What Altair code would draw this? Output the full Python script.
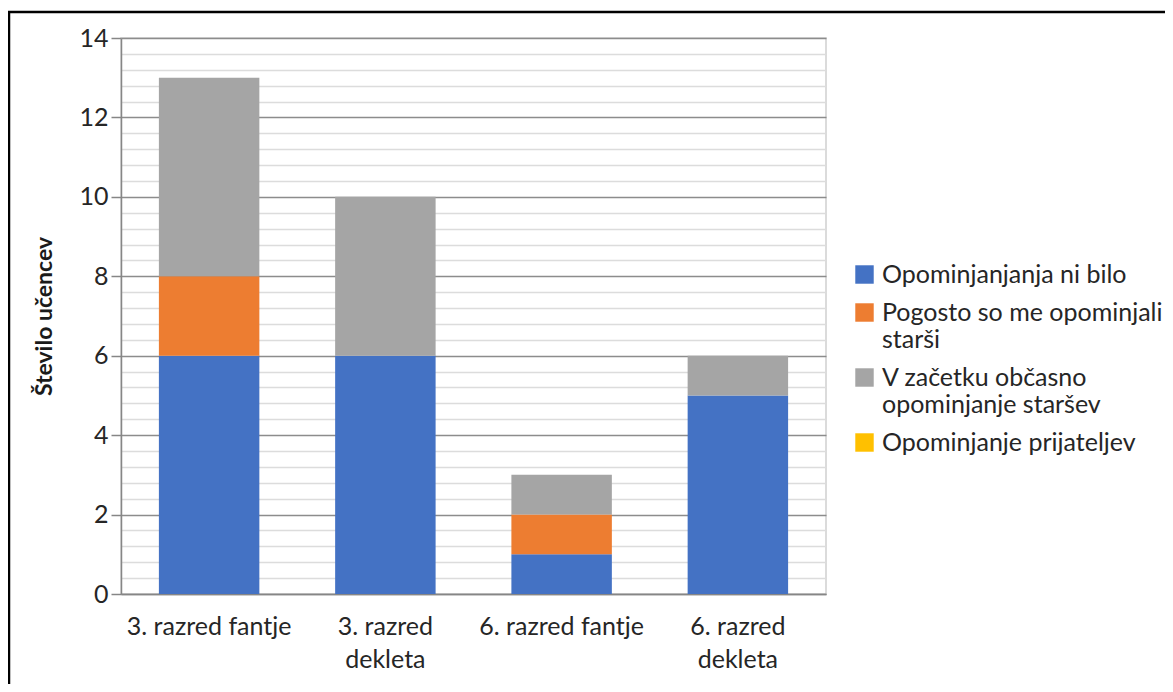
import altair as alt
import pandas as pd

categories = ["3. razred fantje", "3. razred dekleta", "6. razred fantje", "6. razred dekleta"]
series = [
    "Opominjanjanja ni bilo",
    "Pogosto so me opominjali starši",
    "V začetku občasno opominjanje staršev",
    "Opominjanje prijateljev",
]
colors = ["#4472C4", "#ED7D31", "#A5A5A5", "#FFC000"]

ni_bilo = [6, 6, 1, 5]
pogosto = [2, 0, 1, 0]
v_zacetku = [5, 4, 1, 1]
prijatelji = [0, 0, 0, 0]

major_ticks = [0, 2, 4, 6, 8, 10, 12, 14]
minor_ticks = [0.4, 0.8, 1.2, 1.6, 2.4, 2.8, 3.2, 3.6, 4.4, 4.8, 5.2, 5.6,
               6.4, 6.8, 7.2, 7.6, 8.4, 8.8, 9.2, 9.6, 10.4, 10.8, 11.2, 11.6,
               12.4, 12.8, 13.2, 13.6]

rows = []
for si, (name, vals) in enumerate(zip(series, [ni_bilo, pogosto, v_zacetku, prijatelji])):
    for c, v in zip(categories, vals):
        rows.append({"razred": c, "serija": name, "vrednost": v, "red": si})
df = pd.DataFrame(rows)

FONT = "Lato"
FS = 25
W, H = 705, 556

x_axis = alt.Axis(
    labelAngle=0, labelAlign="center", labelBaseline="top",
    labelFontSize=FS, labelFont=FONT, labelColor="#262626",
    labelPadding=20, labelLineHeight=33, ticks=False,
    domainColor="#868686", domainWidth=1.5, grid=False, labelLimit=300,
    labelExpr="indexof(datum.value, 'dekleta') > 0 ? [replace(datum.value, ' dekleta', ''), 'dekleta'] : datum.value",
)
x_scale = alt.Scale(paddingInner=0.43, paddingOuter=0.215)

legend_expr = (
    "datum.label == 'Pogosto so me opominjali starši' ? ['Pogosto so me opominjali', 'starši'] : "
    "datum.label == 'V začetku občasno opominjanje staršev' ? ['V začetku občasno', 'opominjanje staršev'] : datum.label"
)

bars = alt.Chart(df).mark_bar().encode(
    x=alt.X("razred:N", sort=categories, title=None, scale=x_scale, axis=x_axis),
    y=alt.Y(
        "sum(vrednost):Q", title="Število učencev",
        scale=alt.Scale(domain=[0, 14], nice=False),
        axis=alt.Axis(
            orient="left", grid=True,
            values=major_ticks, labelFontSize=FS, labelFont=FONT, labelColor="#262626",
            tickSize=10, tickColor="#868686", tickWidth=1.5, labelPadding=3,
            domainColor="#868686", domainWidth=1.5,
            gridColor="#8c8c8c", gridWidth=1.6,
            titleFont=FONT, titleFontSize=23, titleFontWeight="bold", titleColor="#1a1a1a",
            titlePadding=22,
        ),
    ),
    color=alt.Color(
        "serija:N", sort=series,
        scale=alt.Scale(domain=series, range=colors),
        legend=alt.Legend(
            title=None, orient="none", legendX=731, legendY=224,
            symbolType="square", symbolSize=340, symbolStrokeWidth=0,
            labelFont=FONT, labelFontSize=FS, labelColor="#262626",
            labelLimit=400, labelOffset=5, rowPadding=12,
            labelExpr=legend_expr,
        ),
    ),
    order=alt.Order("red:Q", sort="ascending"),
)

minor = alt.Chart(df).mark_bar(opacity=0).encode(
    x=alt.X("razred:N", sort=categories, title=None, scale=x_scale, axis=x_axis),
    y=alt.Y(
        "sum(vrednost):Q",
        scale=alt.Scale(domain=[0, 14], nice=False),
        axis=alt.Axis(
            orient="left", values=minor_ticks, labels=False, ticks=False, grid=True,
            domain=False, title=None, gridColor="#dcdcdc", gridWidth=1.5,
        ),
    ),
)

border_top = alt.Chart(pd.DataFrame({"a": [0]})).mark_rule(color="black", strokeWidth=2.5).encode(
    x=alt.value(-113), x2=alt.value(W + 339), y=alt.value(-26)
)
border_left = alt.Chart(pd.DataFrame({"a": [0]})).mark_rule(color="black", strokeWidth=2.5).encode(
    x=alt.value(-112), y=alt.value(-27), y2=alt.value(H + 90)
)

chart = alt.layer(minor, bars, border_top, border_left).resolve_axis(y="independent").properties(
    width=W, height=H,
    autosize=alt.AutoSizeParams(type="none"),
    padding={"left": 113, "top": 30, "right": 339, "bottom": 90},
    background="white",
).configure_view(stroke="#d0d0d0", strokeWidth=1.5)

chart.save("out.html", embed_options={"renderer": "svg", "actions": False})
